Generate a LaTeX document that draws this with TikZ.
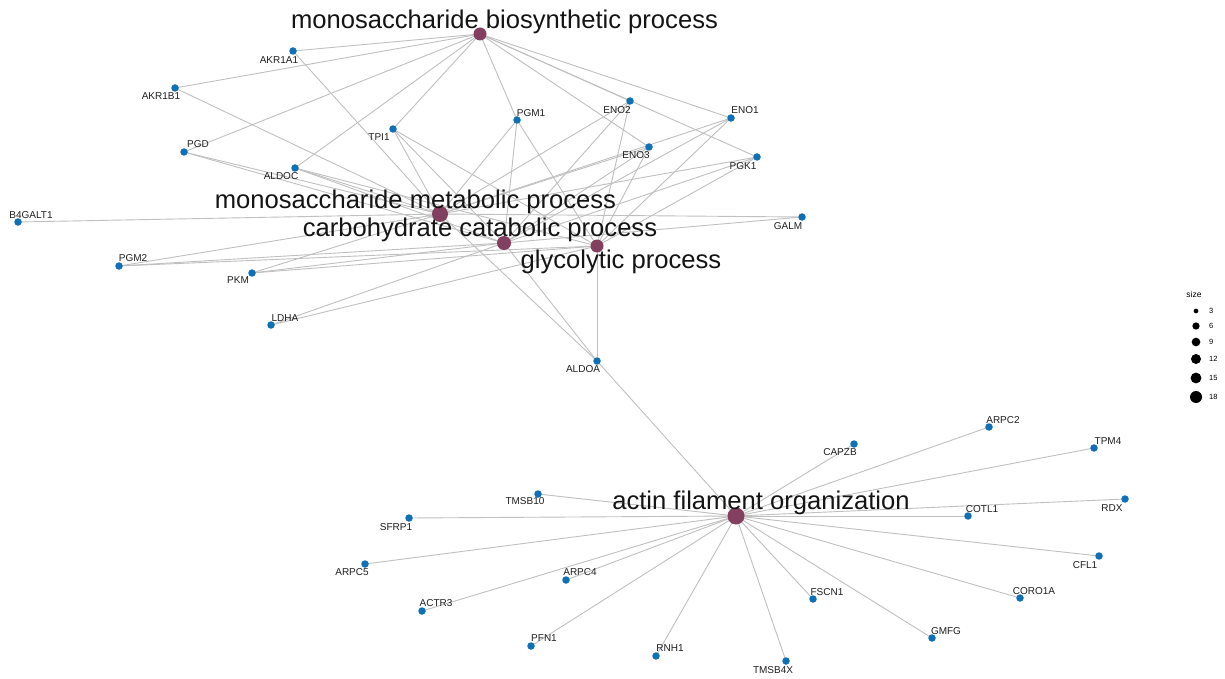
\documentclass[tikz,border=0pt]{standalone}
\usepackage{fontspec}
\setmainfont{Liberation Sans}
\usetikzlibrary{backgrounds}
\definecolor{termc}{RGB}{131,63,95}
\definecolor{genec}{RGB}{16,112,182}
\definecolor{edgec}{RGB}{192,192,192}
\newcommand\gn[5]{\node[gene] (#1) at (#2,#3) {};\node[glabel] (l#1) at (#4,#5) {#1};}
\begin{document}
\begin{tikzpicture}[x=1bp,y=-1bp,
 gene/.style={circle,fill=genec,inner sep=0pt,minimum size=7.5bp},
 term/.style={circle,fill=termc,inner sep=0pt},
 glabel/.style={inner sep=0pt,font=\fontsize{10bp}{12bp}\selectfont,text=black!88},
 tlabel/.style={inner sep=0pt,anchor=base,font=\fontsize{25.6bp}{30bp}\selectfont,text=black!92},
 edge/.style={draw=edgec,line width=0.9bp},
 legdot/.style={circle,fill=black,inner sep=0pt},
 leglab/.style={anchor=west,inner sep=0pt,font=\fontsize{7.5bp}{9bp}\selectfont}]
\useasboundingbox (0,0) rectangle (1225,679);
% term nodes
\node[term,minimum size=13bp] (MBP) at (480,34) {};
\node[term,minimum size=16bp] (MMP) at (440,214) {};
\node[term,minimum size=14bp] (CCP) at (504,243) {};
\node[term,minimum size=13bp] (GP) at (597,246) {};
\node[term,minimum size=17bp] (AFO) at (736,516) {};
% genes top
\gn{AKR1A1}{293}{51}{279}{60}
\gn{AKR1B1}{175}{88}{161}{96}
\gn{PGD}{184}{152}{198}{144}
\gn{ALDOC}{295}{168}{281}{176}
\gn{TPI1}{393}{129}{379}{137}
\gn{PGM1}{517}{120}{531}{113}
\gn{ENO2}{630}{101}{617}{110}
\gn{ENO1}{731}{118}{745}{110}
\gn{ENO3}{649}{147}{636}{155}
\gn{PGK1}{757}{157}{743}{166}
\gn{GALM}{802}{217}{788}{226}
\gn{B4GALT1}{18}{222}{31}{215}
\gn{PGM2}{119}{266}{133}{258}
\gn{PKM}{252}{273}{238}{280}
\gn{LDHA}{271}{325}{285}{318}
\gn{ALDOA}{597}{361}{583}{369}
% genes bottom
\gn{CAPZB}{854}{444}{840}{452}
\gn{ARPC2}{989}{427}{1003}{420}
\gn{TPM4}{1094}{448}{1108}{441}
\gn{RDX}{1125}{499}{1112}{508}
\gn{COTL1}{968}{516}{982}{509}
\gn{CFL1}{1099}{556}{1085}{565}
\gn{CORO1A}{1020}{598}{1034}{591}
\gn{GMFG}{932}{638}{946}{631}
\gn{FSCN1}{813}{599}{827}{592}
\gn{TMSB4X}{786}{661}{773}{670}
\gn{TMSB10}{538}{494}{525}{501}
\gn{SFRP1}{409}{518}{396}{527}
\gn{ARPC5}{365}{564}{352}{572}
\gn{ARPC4}{566}{580}{580}{572}
\gn{ACTR3}{422}{611}{436}{603}
\gn{PFN1}{531}{646}{544}{638}
\gn{RNH1}{656}{656}{670}{648}
% term labels
\node[tlabel] (lMBP) at (504.5,28.5) {monosaccharide biosynthetic process};
\node[tlabel] (lMMP) at (415.5,208.5) {monosaccharide metabolic process};
\node[tlabel] (lCCP) at (480,237) {carbohydrate catabolic process};
\node[tlabel] (lGP) at (621,268) {glycolytic process};
\node[tlabel] (lAFO) at (761,509) {actin filament organization};
% edges
\begin{pgfonlayer}{background}
\fill[white] (0,0) rectangle (1225,679);
\foreach \g in {AKR1A1,AKR1B1,PGD,ALDOC,TPI1,PGM1,ENO2,ENO3,ENO1,PGK1}
  \draw[edge] (MBP.center) -- (\g.center);
\foreach \g in {AKR1A1,AKR1B1,PGD,ALDOC,TPI1,PGM1,ENO2,ENO3,ENO1,PGK1,GALM,B4GALT1,PGM2,PKM,ALDOA}
  \draw[edge] (MMP.center) -- (\g.center);
\foreach \g in {PGD,ALDOC,TPI1,PGM1,ENO2,ENO3,ENO1,PGK1,GALM,PGM2,PKM,LDHA,ALDOA}
  \draw[edge] (CCP.center) -- (\g.center);
\foreach \g in {ALDOC,TPI1,PGM1,ENO2,ENO3,ENO1,PGK1,PGM2,PKM,LDHA,ALDOA}
  \draw[edge] (GP.center) -- (\g.center);
\foreach \g in {ALDOA,CAPZB,ARPC2,TPM4,RDX,COTL1,CFL1,CORO1A,GMFG,FSCN1,TMSB4X,TMSB10,SFRP1,ARPC5,ARPC4,ACTR3,PFN1,RNH1}
  \draw[edge] (AFO.center) -- (\g.center);
\end{pgfonlayer}
% legend
\node[inner sep=0pt,font=\fontsize{8.5bp}{10bp}\selectfont] (legt) at (1194,294) {size};
\node[legdot,minimum size=4.7bp] (s3) at (1196,311) {};
\node[legdot,minimum size=7.3bp] (s6) at (1196,326) {};
\node[legdot,minimum size=8.7bp] (s9) at (1196,342) {};
\node[legdot,minimum size=10bp] (s12) at (1196,359) {};
\node[legdot,minimum size=10.8bp] (s15) at (1196,378) {};
\node[legdot,minimum size=12bp] (s18) at (1196,397) {};
\node[leglab] (t3) at (1209,311) {3};
\node[leglab] (t6) at (1209,326) {6};
\node[leglab] (t9) at (1209,342) {9};
\node[leglab] (t12) at (1209,359) {12};
\node[leglab] (t15) at (1209,378) {15};
\node[leglab] (t18) at (1209,397) {18};
\end{tikzpicture}
\end{document}
